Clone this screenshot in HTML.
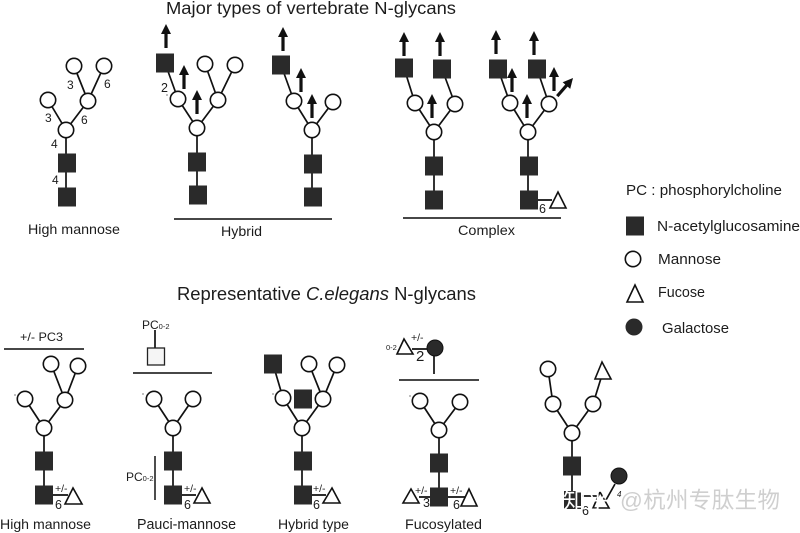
<!DOCTYPE html>
<html><head><meta charset="utf-8">
<style>
html,body{margin:0;padding:0;background:#fff}
svg{display:block}
text{font-family:"Liberation Sans","Noto Sans CJK SC",sans-serif;fill:#1c1c1c}
.l{stroke:#111;stroke-width:1.7;fill:none}
.m{fill:#fff;stroke:#111;stroke-width:1.6}
.s{fill:#2a2a2a}
.t{fill:#fff;stroke:#111;stroke-width:1.6}
.g{fill:#2a2a2a;stroke:#111;stroke-width:1}
</style></head><body>
<svg width="800" height="533" viewBox="0 0 800 533" xmlns="http://www.w3.org/2000/svg">
<defs>
<g id="a"><rect x="-1.6" y="8" width="3.2" height="16" fill="#111"/><polygon points="0,0 5,10 -5,10" fill="#111"/></g>
<g id="q"><rect x="-9" y="-9.5" width="18" height="19" class="s"/></g>
<g id="c"><circle r="7.7" class="m"/></g>
</defs>

<text x="166" y="14" font-size="17.5" textLength="290" lengthAdjust="spacingAndGlyphs">Major types of vertebrate N-glycans</text>

<!-- High mannose top -->
<path class="l" d="M74 66L88 101M104 66L88 101M48 100L66 130M88 101L66 130M66 130V197"/>
<use href="#c" x="74" y="66"/><use href="#c" x="104" y="66"/><use href="#c" x="48" y="100"/><use href="#c" x="88" y="101"/><use href="#c" x="66" y="130"/>
<use href="#q" x="67" y="163"/><use href="#q" x="67" y="197"/>
<g font-size="12">
<text x="67" y="89">3</text><text x="104" y="88">6</text><text x="45" y="122">3</text><text x="81" y="124">6</text><text x="51" y="148">4</text><text x="52" y="184">4</text>
</g>
<text x="28" y="234" font-size="14" textLength="92" lengthAdjust="spacingAndGlyphs">High mannose</text>

<!-- Hybrid 1 -->
<path class="l" d="M165 63L178 99M205 64L218 100M235 65L218 100M178 99L197 128M218 100L197 128M197 128V195"/>
<use href="#q" x="165" y="63"/>
<use href="#c" x="178" y="99"/><use href="#c" x="218" y="100"/><use href="#c" x="197" y="128"/><use href="#c" x="205" y="64"/><use href="#c" x="235" y="65"/>
<use href="#q" x="197" y="162"/><use href="#q" x="198" y="195"/>
<use href="#a" x="166" y="24"/><use href="#a" x="184" y="65"/><use href="#a" x="197" y="90"/>
<text x="161" y="92" font-size="12.5">2</text><circle cx="167" cy="95" r=".6" fill="#222"/>

<!-- Hybrid 2 -->
<path class="l" d="M281 65L294 101M294 101L312 130M333 102L312 130M312 130V197"/>
<use href="#q" x="281" y="65"/>
<use href="#c" x="294" y="101"/><use href="#c" x="333" y="102"/><use href="#c" x="312" y="130"/>
<use href="#q" x="313" y="164"/><use href="#q" x="313" y="197"/>
<use href="#a" x="283" y="27"/><use href="#a" x="301" y="68"/><use href="#a" x="312" y="94"/>
<rect x="174" y="218.2" width="158" height="1.6" fill="#1a1a1a"/>
<text x="221" y="236" font-size="14" textLength="41" lengthAdjust="spacingAndGlyphs">Hybrid</text>

<!-- Complex 1 -->
<path class="l" d="M404 68L415 103M442 69L455 104M415 103L434 132M455 104L434 132M434 132V200"/>
<use href="#q" x="404" y="68"/><use href="#q" x="442" y="69"/>
<use href="#c" x="415" y="103"/><use href="#c" x="455" y="104"/><use href="#c" x="434" y="132"/>
<use href="#q" x="434" y="166"/><use href="#q" x="434" y="200"/>
<use href="#a" x="404" y="32"/><use href="#a" x="440" y="32"/><use href="#a" x="432" y="94"/>

<!-- Complex 2 -->
<path class="l" d="M498 69L510 103M537 69L549 104M510 103L528 132M549 104L528 132M528 132V200M538 200H552"/>
<use href="#q" x="498" y="69"/><use href="#q" x="537" y="69"/>
<use href="#c" x="510" y="103"/><use href="#c" x="549" y="104"/><use href="#c" x="528" y="132"/>
<use href="#q" x="529" y="166"/><use href="#q" x="529" y="200"/>
<use href="#a" x="496" y="30"/><use href="#a" x="534" y="31"/><use href="#a" x="512" y="68"/><use href="#a" x="554" y="67"/><use href="#a" x="527" y="94"/>
<use href="#a" transform="translate(573 78) rotate(41)"/>
<polygon class="t" points="558,192 550,208 566,208"/>
<text x="539" y="213" font-size="12.5">6</text>
<rect x="403" y="217.2" width="158" height="1.6" fill="#1a1a1a"/>
<text x="458" y="235" font-size="14" textLength="57" lengthAdjust="spacingAndGlyphs">Complex</text>

<!-- Legend -->
<text x="626" y="195" font-size="15" textLength="156" lengthAdjust="spacingAndGlyphs">PC : phosphorylcholine</text>
<use href="#q" x="635" y="226"/>
<text x="657" y="231" font-size="15" textLength="143" lengthAdjust="spacingAndGlyphs">N-acetylglucosamine</text>
<use href="#c" x="633" y="259"/>
<text x="658" y="264" font-size="15" textLength="63" lengthAdjust="spacingAndGlyphs">Mannose</text>
<polygon class="t" points="635,285 627,302 643,302"/>
<text x="658" y="297" font-size="15" textLength="47" lengthAdjust="spacingAndGlyphs">Fucose</text>
<circle cx="634" cy="327" r="8.5" class="s"/>
<text x="662" y="333" font-size="15" textLength="67" lengthAdjust="spacingAndGlyphs">Galactose</text>

<text x="177" y="300" font-size="18" textLength="299" lengthAdjust="spacingAndGlyphs">Representative <tspan font-style="italic">C.elegans</tspan> N-glycans</text>

<!-- Bottom: High mannose -->
<text x="20" y="341" font-size="12" textLength="43" lengthAdjust="spacingAndGlyphs">+/- PC3</text>
<rect x="4" y="348.2" width="80" height="1.6" fill="#1a1a1a"/>
<path class="l" d="M51 364L65 400M78 366L65 400M25 399L44 428M65 400L44 428M44 428V495M53 495H68"/>
<use href="#c" x="51" y="364"/><use href="#c" x="78" y="366"/><use href="#c" x="25" y="399"/><use href="#c" x="65" y="400"/><use href="#c" x="44" y="428"/>
<use href="#q" x="44" y="461"/><use href="#q" x="44" y="495"/>
<polygon class="t" points="73,488 65,504 82,504"/>
<text x="55" y="492" font-size="10.5">+/-</text>
<text x="55" y="509" font-size="12.5">6</text>
<circle cx="15" cy="395" r=".6" fill="#222"/>
<text x="0" y="529" font-size="14" textLength="91" lengthAdjust="spacingAndGlyphs">High mannose</text>

<!-- Bottom: Pauci -->
<text x="142" y="329" font-size="12">PC<tspan font-size="7.5">0-2</tspan></text>
<path class="l" d="M155 330V348"/>
<rect x="147.5" y="348" width="17" height="17" fill="#f5f5f5" stroke="#222" stroke-width="1.3"/>
<rect x="133" y="372.2" width="79" height="1.6" fill="#1a1a1a"/>
<path class="l" d="M154 399L173 428M193 399L173 428M173 428V495M182 495H196"/>
<use href="#c" x="154" y="399"/><use href="#c" x="193" y="399"/><use href="#c" x="173" y="428"/>
<use href="#q" x="173" y="461"/><use href="#q" x="173" y="495"/>
<polygon class="t" points="202,488 194,503 210,503"/>
<text x="184" y="492" font-size="10.5">+/-</text>
<text x="184" y="509" font-size="12.5">6</text>
<rect x="154.2" y="456" width="1.6" height="44" fill="#222"/>
<text x="126" y="481" font-size="12">PC<tspan font-size="7.5">0-2</tspan></text>
<circle cx="143" cy="394" r=".6" fill="#222"/>
<text x="137" y="529" font-size="14.5" textLength="99" lengthAdjust="spacingAndGlyphs">Pauci-mannose</text>

<!-- Bottom: Hybrid type -->
<path class="l" d="M273 364L283 398M309 364L323 399M337 365L323 399M283 398L302 428M323 399L302 428M302 428V495M312 495H326"/>
<use href="#q" x="273" y="364"/>
<use href="#c" x="309" y="364"/><use href="#c" x="337" y="365"/><use href="#c" x="283" y="398"/><use href="#c" x="323" y="399"/>
<use href="#q" x="303" y="399"/>
<use href="#c" x="302" y="428"/>
<use href="#q" x="303" y="461"/><use href="#q" x="303" y="495"/>
<polygon class="t" points="332,488 323,503 340,503"/>
<text x="313" y="492" font-size="10.5">+/-</text>
<text x="313" y="509" font-size="12.5">6</text>
<circle cx="273" cy="394" r=".6" fill="#222"/>
<text x="278" y="529" font-size="14" textLength="71" lengthAdjust="spacingAndGlyphs">Hybrid type</text>

<!-- Bottom: Fucosylated -->
<text x="386" y="350" font-size="7.5">0-2</text>
<polygon class="t" points="404,339 397,354 413,354"/>
<text x="411" y="341" font-size="10.5">+/-</text>
<text x="416" y="361" font-size="15">2</text>
<path class="l" d="M412 349H427M434 355V374"/>
<circle cx="435" cy="348" r="8" class="g"/>
<rect x="399" y="379.2" width="80" height="1.6" fill="#1a1a1a"/>
<path class="l" d="M420 401L439 430M460 402L439 430M439 430V497M419 497H470"/>
<use href="#c" x="420" y="401"/><use href="#c" x="460" y="402"/><use href="#c" x="439" y="430"/>
<use href="#q" x="439" y="463"/><use href="#q" x="439" y="497"/>
<polygon class="t" points="411,489 403,503 419,503"/>
<polygon class="t" points="469,489 461,506 477,506"/>
<text x="415" y="494" font-size="10.5">+/-</text>
<text x="450" y="494" font-size="10.5">+/-</text>
<text x="423" y="507" font-size="12.5">3</text>
<text x="453" y="509" font-size="12.5">6</text>
<circle cx="410" cy="396" r=".6" fill="#222"/>
<text x="405" y="529" font-size="14" textLength="77" lengthAdjust="spacingAndGlyphs">Fucosylated</text>

<!-- Bottom: last -->
<path class="l" d="M548 369L553 404M602 375L593 404M553 404L572 433M593 404L572 433M572 433V500M615 484L606 500"/>
<use href="#c" x="548" y="369"/><use href="#c" x="553" y="404"/><use href="#c" x="593" y="404"/><use href="#c" x="572" y="433"/>
<polygon class="t" points="602,362 595,379 611,379"/>
<use href="#q" x="572" y="466"/>
<rect x="564" y="491" width="17" height="18" class="s"/>
<polygon class="t" points="600,492 593,508 609,508"/>
<path class="l" d="M582 496H597"/>
<circle cx="619" cy="476" r="8" class="g"/>
<text x="582" y="515" font-size="12.5">6</text>
<text x="617" y="497" font-size="8" font-style="italic">4</text>
<text x="563" y="508" font-size="23" style="fill:#fff">知乎</text>
<text x="620" y="508" font-size="22.5" textLength="160" style="fill:#cfcfcf">@杭州专肽生物</text>
</svg>
</body></html>
